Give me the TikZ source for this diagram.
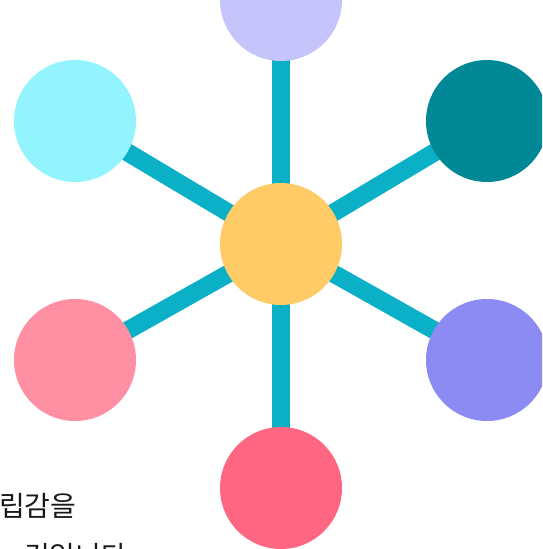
\documentclass[tikz,border=0pt]{standalone}
\usepackage{fontspec}
\newfontfamily\krfont{Noto Sans CJK KR}
\usetikzlibrary{backgrounds}
\definecolor{spoke}{HTML}{0AB0C5}
\definecolor{cCenter}{HTML}{FFCB66}
\definecolor{cTop}{HTML}{C5C5FC}
\definecolor{cTL}{HTML}{93F3FF}
\definecolor{cTR}{HTML}{008896}
\definecolor{cBL}{HTML}{FF8FA3}
\definecolor{cBR}{HTML}{8B8BF3}
\definecolor{cBot}{HTML}{FF6682}
\newcommand{\krbig}{\krfont\fontsize{28pt}{44pt}\selectfont}
\tikzset{
  ball/.style={circle,minimum size=122pt,inner sep=0pt,draw=none},
  spokeline/.style={draw=spoke,line width=18pt},
  lbl/.style={font=\krbig,text=black!90,anchor=base west,inner sep=0pt}
}
\begin{document}
\begin{tikzpicture}[x=1pt,y=-1pt]
\useasboundingbox (0,0) rectangle (542,549);
\clip (0,0) rectangle (542,549);
\node[ball,fill=cCenter] (c) at (281,244) {};
\node[ball,fill=cTop] (t) at (281,0) {};
\node[ball,fill=cTL] (tl) at (75,121) {};
\node[ball,fill=cTR] (tr) at (487,121) {};
\node[ball,fill=cBL] (bl) at (75,360) {};
\node[ball,fill=cBR] (br) at (487,360) {};
\node[ball,fill=cBot] (b) at (281,488) {};
\begin{scope}[on background layer]
\foreach \n in {t,tl,tr,bl,br,b} \draw[spokeline] (c.center) -- (\n.center);
\end{scope}
\node[lbl] (l1) at (-1,516) {립감을};
\node[lbl] (l2) at (24,566) {것입니다};
\end{tikzpicture}
\end{document}
